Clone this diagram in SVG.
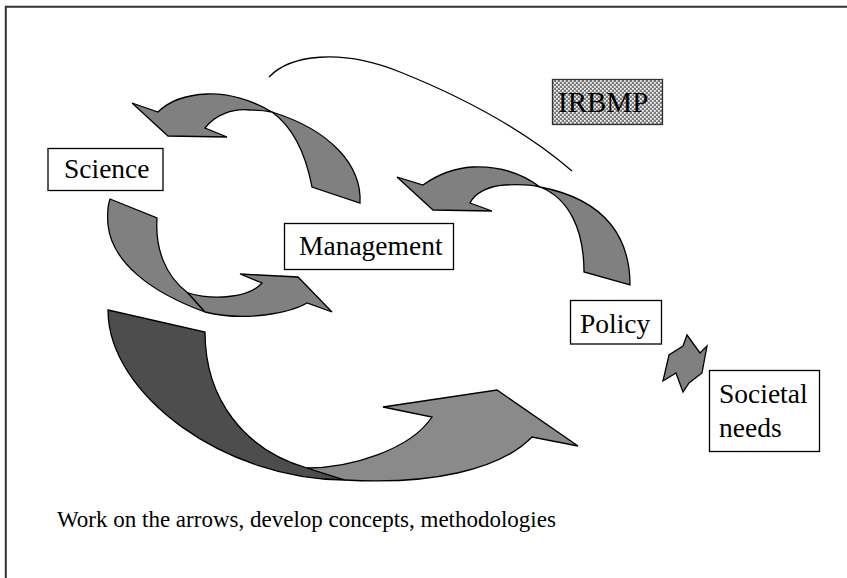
<svg xmlns="http://www.w3.org/2000/svg" width="847" height="578" viewBox="0 0 847 578">
  <style>
    .lbl { font-family: "Liberation Serif", "Times New Roman", serif; font-size: 27.5px; fill: #000; }
    .box { fill: #fff; stroke: #000; stroke-width: 1.3; }
    .arw { fill: #808080; stroke: #000; stroke-width: 1.3; stroke-linejoin: miter; }
    .dark { fill: #4d4d4d; }
    .light { fill: #8a8a8a; }
    .note { font-family: "Liberation Serif", "Times New Roman", serif; font-size: 23px; fill: #000; }
  </style>
  <defs>
    <pattern id="stipple" patternUnits="userSpaceOnUse" width="4" height="4">
      <rect width="4" height="4" fill="#7a7a7a"/>
      <rect x="0" y="0" width="1.7" height="1.7" fill="#fff"/>
      <rect x="2" y="2" width="1.7" height="1.7" fill="#fff"/>
    </pattern>
  </defs>

  <rect width="847" height="578" fill="#fff"/>
  <!-- outer frame -->
  <path d="M5.8,578 V6.8 H847" fill="none" stroke="#333" stroke-width="2"/>

  <g id="connectors">
    <!-- long sweep above the loop -->
    <path d="M269,77 C290,55 340,48 400,72 C470,100 530,135 572,171" fill="none" stroke="#000" stroke-width="1.3"/>

    <!-- Management back to Science -->
    <path class="arw" d="M272,112 C290,125 305,150 312,187 L360,203 C362,165 330,130 272,112 Z"/>
    <path class="arw" d="M272,112 C252,100 228,93 207,94 C185,95 168,102 158,112 L132,103 L168,136 L227,137 L205,128 C215,115 233,108 250,110 C260,110 267,111 272,112 Z"/>

    <!-- Science to Management -->
    <path class="arw" d="M110,199 L157,218 C155,248 165,276 188,293 L205,312 C150,292 112,262 108,225 C107,213 108,205 110,199 Z"/>
    <path class="arw" d="M188,293 C215,301 250,297 262,283 L240,274 L298,277 L332,312 L307,303 C290,313 245,322 205,312 Z"/>

    <!-- Policy back to Management -->
    <path class="arw" d="M540,187 C568,198 584,228 584,272 L630,285 C630,240 608,200 540,187 Z"/>
    <path class="arw" d="M540,187 C520,172 497,166 473,167 C455,168 437,175 423,185 L397,177 L433,210 L492,211 L470,203 C475,193 488,186 505,185 C520,184 532,185 540,187 Z"/>

    <!-- large sweep along the bottom -->
    <path class="arw dark" d="M108,310 L205,332 C205,400 245,450 307,468 L345,480 C226,480 108,395 108,310 Z"/>
    <path class="arw light" d="M307,468 C350,468 410,450 432,417 L383,407 L497,390 L578,446 L532,437 C500,470 430,485 345,480 Z"/>

    <!-- Policy / Societal needs exchange -->
    <path class="arw" d="M687,335 L683,346 L669,355 L663,381 L676,373 L683,392 L689,383 L702,373 L707,346 L700,353 Z"/>
  </g>

  <g id="science">
    <rect class="box" x="48" y="148.5" width="115" height="42"/>
    <text class="lbl" x="64" y="178">Science</text>
  </g>

  <g id="management">
    <rect class="box" x="284.5" y="223.5" width="169" height="46"/>
    <text class="lbl" x="299" y="255">Management</text>
  </g>

  <g id="irbmp">
    <rect x="552.5" y="79.5" width="110" height="45" fill="url(#stipple)" stroke="#333" stroke-width="1.3"/>
    <text class="lbl" x="558" y="112" style="font-size:29px">IRBMP</text>
  </g>

  <g id="policy">
    <rect class="box" x="570.5" y="300.5" width="91" height="43.5"/>
    <text class="lbl" x="580" y="333">Policy</text>
  </g>

  <g id="societal-needs">
    <rect class="box" x="709.5" y="370.5" width="110" height="81"/>
    <text class="lbl" x="719" y="403">Societal</text>
    <text class="lbl" x="719" y="437">needs</text>
  </g>

  <text class="note" x="57" y="527">Work on the arrows, develop concepts, methodologies</text>
</svg>
